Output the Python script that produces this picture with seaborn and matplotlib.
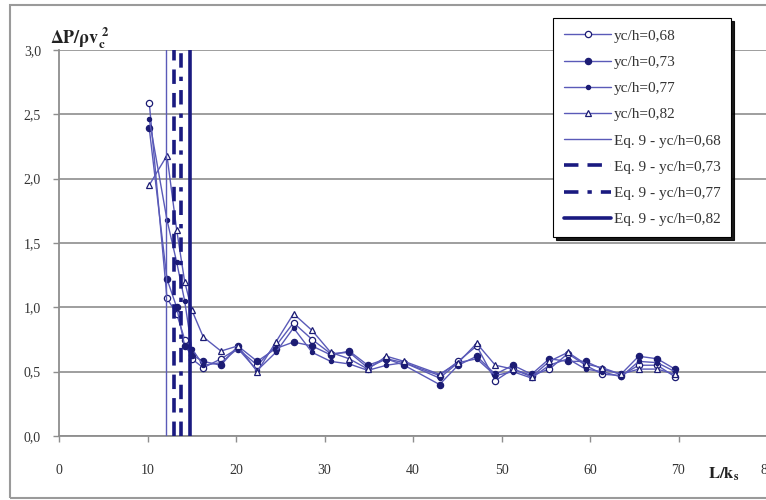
import numpy as np
import pandas as pd
import matplotlib
matplotlib.use("Agg")
import matplotlib.pyplot as plt
from matplotlib.patches import Rectangle
from matplotlib.lines import Line2D
import seaborn as sns

# Relative length L/k_s at each measuring station
l_ks = [10.2, 12.2, 13.3, 14.2, 15.0, 16.3, 18.3, 20.2, 22.4, 24.5, 26.5, 28.6,
        30.7, 32.8, 34.9, 37.0, 39.0, 43.0, 45.1, 47.2, 49.3, 51.3, 53.4, 55.4,
        57.5, 59.5, 61.4, 63.5, 65.5, 67.6, 69.6]

# Dimensionless pressure drop for each flow depth ratio
dp_068 = [2.59, 1.07, 0.95, 0.75, 0.60, 0.53, 0.60, 0.68, 0.55, 0.70, 0.88, 0.75,
          0.64, 0.65, 0.53, 0.60, 0.57, 0.47, 0.58, 0.70, 0.43, 0.52, 0.47, 0.52,
          0.64, 0.55, 0.48, 0.47, 0.55, 0.55, 0.46]
dp_073 = [2.39, 1.22, 1.00, 0.70, 0.63, 0.58, 0.55, 0.70, 0.58, 0.68, 0.73, 0.70,
          0.63, 0.66, 0.55, 0.60, 0.55, 0.40, 0.55, 0.62, 0.48, 0.55, 0.48, 0.60,
          0.58, 0.58, 0.52, 0.48, 0.62, 0.60, 0.52]
dp_077 = [2.46, 1.68, 1.35, 1.05, 0.68, 0.55, 0.57, 0.68, 0.51, 0.65, 0.84, 0.65,
          0.58, 0.56, 0.51, 0.55, 0.57, 0.45, 0.57, 0.60, 0.47, 0.50, 0.45, 0.55,
          0.60, 0.52, 0.50, 0.46, 0.58, 0.57, 0.50]
dp_082 = [1.95, 2.18, 1.60, 1.20, 0.98, 0.77, 0.66, 0.70, 0.50, 0.73, 0.95, 0.82,
          0.65, 0.60, 0.52, 0.62, 0.58, 0.48, 0.57, 0.72, 0.55, 0.52, 0.46, 0.58,
          0.65, 0.56, 0.53, 0.48, 0.52, 0.52, 0.48]

series_labels = ["yc/h=0,68", "yc/h=0,73", "yc/h=0,77", "yc/h=0,82"]

# Eq. 9 predicted L/k_s for each depth ratio
eq9_labels = ["Eq. 9 - yc/h=0,68", "Eq. 9 - yc/h=0,73",
              "Eq. 9 - yc/h=0,77", "Eq. 9 - yc/h=0,82"]
eq9_lks = [12.1, 13.0, 13.8, 14.8]

x_ticks = [0, 10, 20, 30, 40, 50, 60, 70, 80]
y_ticks = [0.0, 0.5, 1.0, 1.5, 2.0, 2.5, 3.0]
y_tick_labels = ["0,0", "0,5", "1,0", "1,5", "2,0", "2,5", "3,0"]

sns.set_theme(style="white")
plt.rcParams["font.family"] = ["Liberation Serif", "DejaVu Serif"]
plt.rcParams["mathtext.fontset"] = "stix"

line_col = "#5a5ab8"
mark_col = "#1c1c74"
eq_col = "#1a1a80"

fig = plt.figure(figsize=(7.66, 5.0), dpi=100)
ax = fig.add_axes([59 / 766, 1 - 436 / 500, 708 / 766, 386 / 500])

# Outer chart frame
fig.patches.append(Rectangle((10 / 766, 2 / 500), 1.0, 493 / 500,
                             transform=fig.transFigure, fill=False,
                             edgecolor="#9a9a9a", linewidth=1.5, zorder=0))

df = pd.DataFrame({"L": l_ks * 4,
                   "dp": dp_068 + dp_073 + dp_077 + dp_082,
                   "serie": sum([[s] * len(l_ks) for s in series_labels], [])})

marker_styles = [
    dict(marker="o", markersize=4.5, markerfacecolor="white"),
    dict(marker="o", markersize=4.5, markerfacecolor=mark_col),
    dict(marker="o", markersize=3, markerfacecolor=mark_col),
    dict(marker="^", markersize=5, markerfacecolor="white"),
]

handles = []
for lab, ms in zip(series_labels, marker_styles):
    sub = df[df["serie"] == lab]
    sns.lineplot(data=sub, x="L", y="dp", ax=ax, color=line_col, linewidth=1.0,
                 markeredgecolor=mark_col, markeredgewidth=0.9, zorder=3, **ms)
    handles.append(Line2D([], [], color=line_col, linewidth=1.0,
                          markeredgecolor=mark_col, markeredgewidth=0.9, **ms))

eq_styles = [
    dict(linestyle="-", linewidth=1.0, color="#5a5ab8"),
    dict(linestyle=(0, (4, 2.5)), linewidth=2.6, color=eq_col),
    dict(linestyle=(0, (4, 2.5, 1.2, 2.5)), linewidth=2.6, color=eq_col),
    dict(linestyle="-", linewidth=2.6, color=eq_col),
]
for xv, st in zip(eq9_lks, eq_styles):
    ax.axvline(xv, zorder=4, **st)
    handles.append(Line2D([], [], **st))

ax.set_xlim(0, 80)
ax.set_ylim(0, 3)
ax.set_xticks(x_ticks)
ax.set_xticklabels([str(t) for t in x_ticks])
ax.set_yticks(y_ticks)
ax.set_yticklabels(y_tick_labels)
ax.set_xlabel("")
ax.set_ylabel("")

ax.grid(axis="y", color="#8e8e8e", linewidth=1.2)
ax.grid(axis="x", visible=False)
for side in ["top", "right"]:
    ax.spines[side].set_visible(False)
for side in ["left", "bottom"]:
    ax.spines[side].set_color("#8e8e8e")
    ax.spines[side].set_linewidth(1.3)

ax.tick_params(axis="x", direction="out", length=4, width=1, color="#8e8e8e",
               pad=16, labelsize=10, labelcolor="#333333", bottom=True)
ax.tick_params(axis="y", direction="out", length=4, width=1, color="#8e8e8e",
               pad=9, labelsize=10, labelcolor="#333333", left=True)

fig.text(50 / 766, 1 - 38 / 500, r"$\mathbf{\Delta P/\rho v_c^{\ 2}}$",
         fontsize=13, color="#222222", ha="left", va="center")
fig.text(708 / 766, 1 - 474 / 500, r"$\mathbf{L/k_s}$",
         fontsize=12, color="#222222", ha="left", va="center")

leg = ax.legend(handles, series_labels + eq9_labels, loc="upper left",
                bbox_to_anchor=(553 / 766, 1 - 18 / 500),
                bbox_transform=fig.transFigure, borderaxespad=0,
                fontsize=11, handlelength=3.1,
                handletextpad=0.15, labelspacing=0.82, borderpad=0.72,
                fancybox=False, framealpha=1, edgecolor="black",
                shadow={"color": "black", "alpha": 0.9})
leg.get_frame().set_linewidth(0.8)
for t in leg.get_texts():
    t.set_color("#333333")

fig.savefig("out.png", dpi=100)
